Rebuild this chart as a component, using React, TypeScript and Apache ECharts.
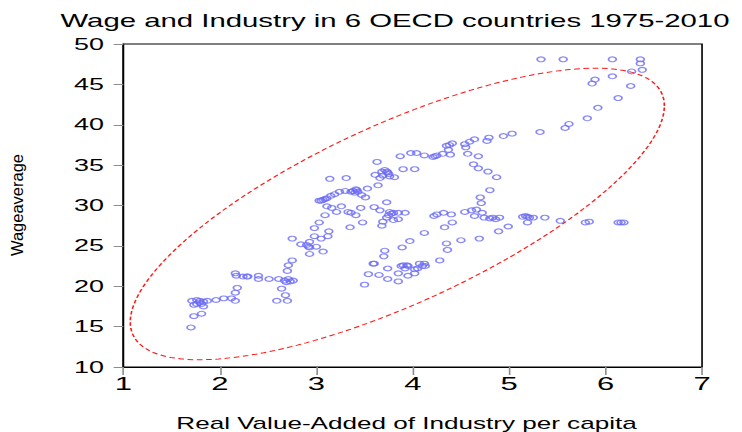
import React, { useEffect, useRef } from "react";
import * as echarts from "echarts";

// Real Value-Added of Industry per capita
const industryPerCapita = [
  1.70, 1.73, 1.81, 1.71, 1.73, 1.76, 1.79, 1.81, 1.83, 1.76, 1.79, 1.83, 1.87, 1.96, 2.04, 2.12, 2.16, 2.16, 2.18, 2.16,
  2.17, 2.24, 2.28, 2.29, 2.40, 2.40, 2.51, 2.61, 2.64, 2.59, 2.68, 2.70, 2.67, 2.71, 2.73, 2.76, 2.69, 2.70, 2.71, 2.75,
  2.75, 2.84, 2.90, 2.93, 2.93, 2.98, 2.98, 2.93, 2.92, 3.00,
  3.03, 3.05, 3.12, 3.13, 3.07, 3.09, 3.11, 3.16, 3.21, 3.26, 3.03, 3.05, 3.07, 3.09, 3.11, 3.15, 3.19, 3.24, 3.30, 3.14,
  3.31, 3.36, 3.38, 3.40, 3.41, 3.42, 3.43, 3.47, 3.51, 3.53, 3.33, 3.36, 3.41, 3.46, 3.35, 3.48,
  3.63, 3.61, 3.64, 3.66, 3.68, 3.69, 3.71, 3.73, 3.74, 3.75, 3.76, 3.81, 3.90, 4.02, 3.87, 3.98, 4.04, 4.12, 4.21, 4.23,
  4.25, 4.31, 4.39, 4.37, 4.35, 4.38, 4.41, 4.54, 4.55, 4.59, 4.64, 4.77, 4.79, 4.94, 5.03, 4.57, 4.68, 4.63, 4.68, 4.78,
  4.87, 4.80, 4.70, 4.71,
  3.60, 3.66, 3.73, 3.76, 3.78, 3.75, 3.80, 3.85, 3.92, 3.73, 3.80, 3.85, 3.69, 3.68,
  4.22, 4.25, 4.32, 4.40, 4.41, 4.33, 4.12, 4.54, 4.61, 4.66, 4.72, 4.64, 4.74, 4.80, 4.83, 4.86, 4.90, 4.99, 4.89, 4.69,
  4.50, 4.35, 4.36, 4.28, 5.14, 5.17, 5.19, 5.21, 5.25, 5.19, 5.37, 5.53, 5.79, 5.83, 6.13, 6.16, 6.19,
  3.97, 3.89, 3.71, 3.70, 3.60, 3.59, 3.74, 3.65, 3.54, 3.50, 3.74, 3.85, 3.85, 3.90, 3.94, 3.92, 3.88, 3.95, 3.95, 4.02,
  4.02, 4.05, 4.07, 4.10, 4.12, 4.13,
  5.32, 5.58, 5.62, 5.81, 5.92, 6.13, 6.26, 5.86, 5.89, 6.07, 6.27, 6.38, 6.36, 6.36, 6.07, 5.56, 5.33,
];

// Wage average
const wageAverage = [
  14.9, 16.3, 16.6, 18.2, 17.7, 18.3, 18.2, 17.8, 17.5, 17.8, 18.0, 18.1, 18.2, 18.3, 18.5, 18.5, 18.2, 19.2, 19.8, 21.6,
  21.3, 21.2, 21.2, 21.2, 21.3, 20.9, 20.9, 20.9, 19.7, 18.2, 18.9, 18.2, 20.7, 20.9, 20.6, 20.7, 20.5, 21.9, 22.6, 23.2,
  25.9, 25.2, 25.1, 25.5, 24.8, 26.2, 27.2, 24.0, 24.9, 24.9,
  27.9, 25.9, 26.2, 26.8, 24.3, 28.8, 29.9, 29.7, 29.2, 29.9, 30.6, 30.6, 30.7, 30.8, 30.9, 31.2, 31.4, 31.7, 31.8, 33.3,
  33.4, 31.7, 31.8, 31.6, 32.0, 31.9, 31.7, 31.3, 31.0, 32.1, 29.2, 29.1, 28.8, 29.7, 27.3, 27.9,
  35.4, 33.8, 32.5, 33.4, 34.2, 33.7, 34.4, 34.2, 34.1, 33.9, 33.6, 33.5, 34.5, 34.5, 36.1, 36.5, 36.5, 36.2, 36.0, 36.1,
  36.2, 36.4, 36.3, 36.9, 37.4, 37.5, 37.7, 37.6, 37.2, 37.9, 38.2, 38.0, 38.4, 38.6, 38.9, 36.4, 36.1, 35.1, 34.6, 34.2,
  33.5, 31.9, 31.0, 30.3,
  29.8, 29.4, 30.4, 29.2, 29.0, 28.8, 29.1, 29.1, 29.1, 28.5, 28.2, 28.3, 28.0, 27.5,
  28.7, 28.9, 29.1, 28.9, 27.9, 27.3, 26.6, 29.2, 29.4, 29.5, 29.1, 28.7, 28.5, 28.4, 28.5, 28.3, 28.5, 27.4, 26.8, 25.9,
  25.7, 25.3, 24.5, 23.2, 28.6, 28.7, 28.6, 28.5, 28.5, 27.9, 28.5, 28.1, 27.9, 28.0, 27.9, 27.9, 27.9,
  25.6, 24.8, 24.4, 23.7, 22.8, 22.8, 22.2, 21.4, 21.5, 20.2, 20.9, 21.6, 20.6, 22.6, 22.6, 22.2, 22.5, 22.5, 21.3, 21.6,
  22.1, 22.2, 22.8, 22.5, 22.8, 22.5,
  39.1, 39.6, 40.1, 40.8, 42.1, 43.3, 44.8, 45.1, 45.6, 46.0, 46.6, 46.8, 47.6, 48.1, 48.1, 48.1, 48.1,
];

// Axis ranges / tick steps
const xAxisRange = [1, 7, 1];
const yAxisRange = [10, 50, 5];

// Confidence ellipse: centre and covariance (data units)
const ellipseCenter = [3.84, 28.95];
const ellipseCov = [
  [7.67, 37.06],
  [37.06, 325.8],
];

const titleText = "Wage and Industry in 6 OECD countries 1975-2010";
const xName = "Real Value-Added of Industry per capita";
const yName = "Wageaverage";

const FULL_W = 742;
const BASE_W = 455;
const STRETCH = FULL_W / BASE_W;
const FONT = "'Liberation Sans', Arial, Helvetica, sans-serif";

function ellipsePoints(): number[][] {
  const l11 = Math.sqrt(ellipseCov[0][0]);
  const l21 = ellipseCov[0][1] / l11;
  const l22 = Math.sqrt(ellipseCov[1][1] - l21 * l21);
  const pts: number[][] = [];
  const n = 180;
  for (let i = 0; i <= n; i++) {
    const t = (i / n) * Math.PI * 2;
    pts.push([
      ellipseCenter[0] + l11 * Math.cos(t),
      ellipseCenter[1] + l21 * Math.cos(t) + l22 * Math.sin(t),
    ]);
  }
  return pts;
}

export default function App() {
  const ref = useRef<HTMLDivElement>(null);

  useEffect(() => {
    if (!ref.current) return;
    const chart = echarts.init(ref.current, undefined, { renderer: "svg" });
    const points = industryPerCapita.map((x, i) => [x, wageAverage[i]]);
    chart.setOption({
      animation: false,
      backgroundColor: "#ffffff",
      grid: {
        left: 75.7,
        right: BASE_W - 430.5,
        top: 44,
        bottom: 65,
        show: true,
        borderColor: "#000",
        borderWidth: 1,
        backgroundColor: "transparent",
      },
      xAxis: {
        type: "value",
        min: xAxisRange[0],
        max: xAxisRange[1],
        interval: xAxisRange[2],
        axisLine: { show: true, lineStyle: { color: "#000", width: 1 } },
        axisTick: { show: true, length: 8, lineStyle: { color: "#8c8c8c" } },
        axisLabel: { color: "#000", fontSize: 19, fontFamily: FONT, margin: 7 },
        splitLine: { show: false },
      },
      yAxis: {
        type: "value",
        min: yAxisRange[0],
        max: yAxisRange[1],
        interval: yAxisRange[2],
        axisLine: { show: true, lineStyle: { color: "#000", width: 1 } },
        axisTick: { show: true, length: 6, lineStyle: { color: "#8c8c8c" } },
        axisLabel: { color: "#000", fontSize: 16.5, fontFamily: FONT, margin: 12 },
        splitLine: { show: false },
      },
      graphic: [
        {
          type: "text",
          x: 395 / STRETCH,
          y: 20.5,
          style: {
            text: titleText,
            fontSize: 18,
            fontFamily: FONT,
            fill: "#000",
            align: "center",
            verticalAlign: "middle",
          },
        },
        {
          type: "text",
          x: 406.5 / STRETCH,
          y: 423,
          style: {
            text: xName,
            fontSize: 16,
            fontFamily: FONT,
            fill: "#000",
            align: "center",
            verticalAlign: "middle",
          },
        },
        {
          type: "text",
          x: 17.8 / STRETCH,
          y: 205,
          rotation: Math.PI / 2,
          scaleY: 0.62,
          style: {
            text: yName,
            fontSize: 16.5,
            fontFamily: FONT,
            fill: "#000",
            align: "center",
            verticalAlign: "middle",
          },
        },
      ],
      series: [
        {
          type: "line",
          data: ellipsePoints(),
          showSymbol: false,
          smooth: false,
          silent: true,
          z: 1,
          lineStyle: { color: "#ff1a1a", width: 1, type: [3.5, 2.2] },
        },
        {
          type: "scatter",
          data: points,
          symbol: "circle",
          symbolSize: 4.8,
          z: 2,
          itemStyle: { color: "rgba(0,0,0,0)", borderColor: "#6a6af5", borderWidth: 1.1 },
        },
      ],
    });
    return () => chart.dispose();
  }, []);

  return (
    <div
      style={{
        position: "absolute",
        left: 0,
        top: 0,
        width: FULL_W,
        height: 432,
        overflow: "hidden",
        background: "#fff",
      }}
    >
      <div
        ref={ref}
        style={{
          width: BASE_W,
          height: 432,
          transform: `scaleX(${STRETCH})`,
          transformOrigin: "0 0",
        }}
      />
    </div>
  );
}
